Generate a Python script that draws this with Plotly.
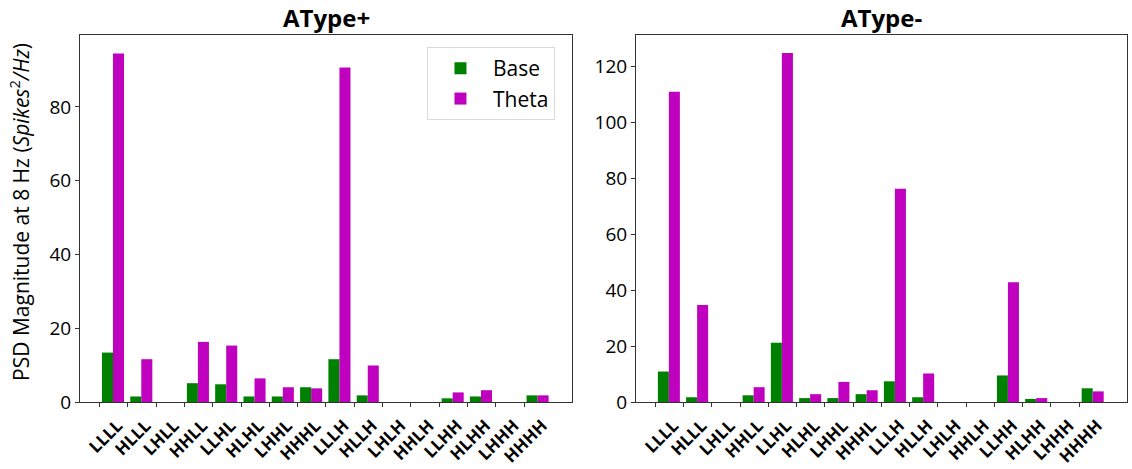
import plotly.graph_objects as go

# Stimulus patterns along the x axis
patterns = ["LLLL", "HLLL", "LHLL", "HHLL", "LLHL", "HLHL", "LHHL", "HHHL",
            "LLLH", "HLLH", "LHLH", "HHLH", "LLHH", "HLHH", "LHHH", "HHHH"]

# PSD magnitude at 8 Hz, AType+ cells
atype_pos_base = [13.4, 1.5, 0, 5.1, 4.8, 1.5, 1.5, 4.0,
                  11.6, 1.8, 0, 0, 1.0, 1.5, 0, 1.8]
atype_pos_theta = [94.5, 11.6, 0, 16.3, 15.3, 6.4, 4.0, 3.7,
                   90.7, 9.9, 0, 0, 2.6, 3.2, 0, 1.8]

# PSD magnitude at 8 Hz, AType- cells
atype_neg_base = [10.9, 1.7, 0, 2.4, 21.2, 1.4, 1.4, 2.8,
                  7.4, 1.7, 0, 0, 9.5, 1.1, 0, 4.9]
atype_neg_theta = [111.0, 34.7, 0, 5.3, 124.9, 2.8, 7.2, 4.2,
                   76.3, 10.2, 0, 0, 42.8, 1.4, 0, 3.8]

GREEN = "#008000"
MAGENTA = "#BF00BF"
FONT = "Open Sans"
BAR_W = 0.39
idx = list(range(len(patterns)))
x_base = [i + 0.28 for i in idx]
x_theta = [i + 0.67 for i in idx]

fig = go.Figure()

panels = [("x", "y", atype_pos_base, atype_pos_theta, True),
          ("x2", "y2", atype_neg_base, atype_neg_theta, False)]
for xa, ya, base, theta, show in panels:
    fig.add_trace(go.Bar(x=x_base, y=base, width=BAR_W, name="Base",
                         marker=dict(color=GREEN, line=dict(width=0)),
                         xaxis=xa, yaxis=ya, showlegend=show))
    fig.add_trace(go.Bar(x=x_theta, y=theta, width=BAR_W, name="Theta",
                         marker=dict(color=MAGENTA, line=dict(width=0)),
                         xaxis=xa, yaxis=ya, showlegend=show))

axis_line = dict(showline=True, linecolor="#333333", linewidth=1, mirror=True,
                 ticks="outside", ticklen=4, tickcolor="#333333",
                 showgrid=False, zeroline=False, automargin=False)

xcommon = dict(axis_line, tickmode="array", tickvals=idx, ticktext=patterns,
               tickangle=-45, range=[-0.69, 16.69],
               ticklabelshift=18, ticklabelstandoff=2,
               tickfont=dict(family=FONT, size=17, color="black", weight="bold"))

yfont = dict(family=FONT, size=19, color="black")

fig.update_layout(
    width=1132, height=469,
    margin=dict(l=80, r=5, t=35, b=67, autoexpand=False),
    plot_bgcolor="white", paper_bgcolor="white",
    barmode="overlay",
    font=dict(family=FONT, color="black"),
    xaxis=dict(xcommon, domain=[0, 0.4699], anchor="y"),
    xaxis2=dict(xcommon, domain=[0.531, 1], anchor="y2"),
    yaxis=dict(axis_line, range=[0, 99.5], tickvals=[0, 20, 40, 60, 80],
               tickfont=yfont, anchor="x"),
    yaxis2=dict(axis_line, range=[0, 131.3], tickvals=[0, 20, 40, 60, 80, 100, 120],
                tickfont=yfont, anchor="x2"),
    legend=dict(x=0.3314, y=0.967, xanchor="left", yanchor="top",
                bgcolor="white", bordercolor="#d9d9d9", borderwidth=1,
                font=dict(family=FONT, size=21, color="black"),
                itemwidth=55, tracegroupgap=0),
    annotations=[
        dict(text="<b>AType+</b>", x=0.2350, y=1.0, xref="paper", yref="paper",
             xanchor="center", yanchor="bottom", yshift=-1, showarrow=False,
             font=dict(family=FONT, size=24, color="black")),
        dict(text="<b>AType-</b>", x=0.7655, y=1.0, xref="paper", yref="paper",
             xanchor="center", yanchor="bottom", yshift=-1, showarrow=False,
             font=dict(family=FONT, size=24, color="black")),
        dict(text="PSD Magnitude at 8 Hz (<i>Spikes</i><sup>2</sup><i>/Hz</i>)",
             x=-0.0573, y=0.518, xref="paper", yref="paper", textangle=-90,
             xanchor="center", yanchor="middle", showarrow=False,
             font=dict(family=FONT, size=21, color="black")),
    ],
)

fig.write_html("out.html")
